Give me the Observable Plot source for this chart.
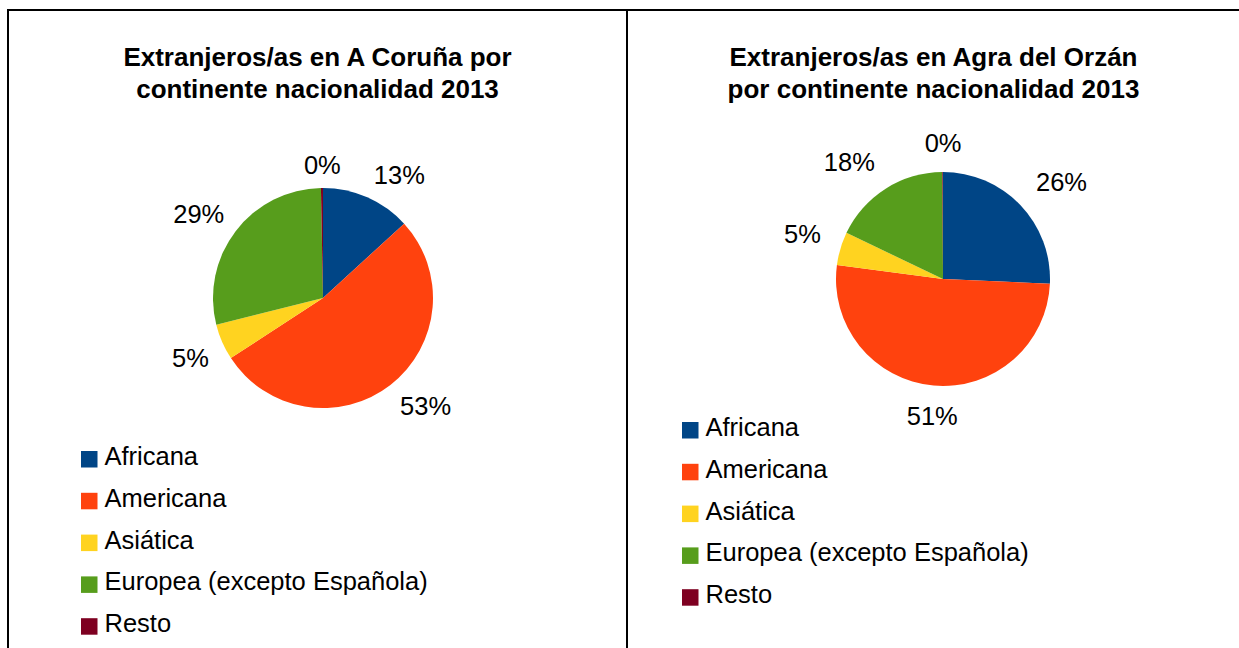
<!DOCTYPE html>
<html>
<head>
<meta charset="utf-8">
<script src="https://cdn.jsdelivr.net/npm/d3@7"></script>
<script src="https://cdn.jsdelivr.net/npm/@observablehq/plot@0.6"></script>
<style>
  html, body { margin: 0; padding: 0; background: #fff; }
  #page { position: relative; width: 1239px; height: 648px; overflow: hidden; background: #fff;
          font-family: "Liberation Sans", Arial, sans-serif; }
  .rule { position: absolute; background: #000; }
  .title { position: absolute; top: 41px; text-align: center; font-weight: bold; font-size: 26px;
           line-height: 32px; color: #000; }
  .panel { position: absolute; top: 110px; }
  .panel svg { display: block; overflow: visible; }
</style>
</head>
<body>
<div id="page"></div>
<script>
// ---- data ----
const categories = ["Africana", "Americana", "Asiática", "Europea (excepto Española)", "Resto"];
const corunaValues = [13.2, 52.6, 5.3, 28.6, 0.3];
const orzanValues = [25.7, 51.4, 5.0, 17.8, 0.1];
const colors = ["#004586", "#ff420e", "#ffd320", "#579d1c", "#7e0021"];
const titleCoruna = ["Extranjeros/as en A Coruña por", "continente nacionalidad 2013"];
const titleOrzan = ["Extranjeros/as en Agra del Orzán", "por continente nacionalidad 2013"];

// ---- layout ----
const page = document.getElementById("page");
function rule(l, t, w, h) {
  const d = document.createElement("div");
  d.className = "rule";
  Object.assign(d.style, {left: l + "px", top: t + "px", width: w + "px", height: h + "px"});
  page.appendChild(d);
}
rule(7, 9, 1232, 2);
rule(7, 9, 2, 639);
rule(626, 9, 2, 639);

const TOP = 110, H = 648 - TOP;

function panel({x0, width, title, values, cx, cy, r, off, legendX, legendY}) {
  const t = document.createElement("div");
  t.className = "title";
  t.style.left = x0 + "px";
  t.style.width = width + "px";
  t.innerHTML = title.join("<br>");
  page.appendChild(t);

  const data = categories.map((c, i) => ({cat: c, value: values[i], color: colors[i]}));
  const total = d3.sum(values);
  const arcs = d3.pie().sort(null).value(d => d.value)(data);
  const labels = arcs.map(a => {
    const m = (a.startAngle + a.endAngle) / 2;
    const s = Math.sin(m), c = Math.cos(m);
    return {
      text: Math.round(a.data.value / total * 100) + "%",
      x: cx + (r + off) * s,
      y: cy - (r + off) * c,
      ta: s > 0.1 ? "start" : s < -0.1 ? "end" : "middle",
      la: c > 0 ? "bottom" : "top"
    };
  });
  const legend = data.map((d, i) => ({...d, lx: legendX, ly: legendY + i * 41.8}));

  const labelMarks = [];
  for (const ta of ["start", "middle", "end"]) {
    for (const la of ["top", "bottom"]) {
      labelMarks.push(Plot.text(labels, {
        filter: d => d.ta === ta && d.la === la,
        x: "x", y: "y", text: "text", textAnchor: ta, lineAnchor: la,
        fontSize: 25.5, fill: "#000"
      }));
    }
  }

  const pieMark = (index, scales) => {
    const g = d3.create("svg:g")
      .attr("transform", `translate(${scales.x(cx)},${scales.y(cy)})`);
    const arc = d3.arc().innerRadius(0).outerRadius(r);
    g.selectAll("path").data(arcs).join("path")
      .attr("d", arc)
      .attr("fill", d => d.data.color);
    return g.node();
  };

  const svg = Plot.plot({
    width, height: H, margin: 0,
    style: {fontFamily: "'Liberation Sans', Arial, sans-serif", background: "transparent", overflow: "visible"},
    x: {type: "linear", domain: [x0, x0 + width], range: [0, width], axis: null},
    y: {type: "linear", domain: [TOP, 648], range: [0, H], axis: null},
    marks: [
      pieMark,
      ...labelMarks,
      Plot.rect(legend, {x1: d => d.lx, x2: d => d.lx + 16.5, y1: d => d.ly, y2: d => d.ly + 16.5, fill: d => d.color}),
      Plot.text(legend, {x: d => d.lx + 23, y: d => d.ly + 13.5, text: "cat", textAnchor: "start", lineAnchor: "bottom",
                         fontSize: 25.5, fill: "#000"})
    ]
  });
  const wrap = document.createElement("div");
  wrap.className = "panel";
  wrap.style.left = x0 + "px";
  wrap.appendChild(svg);
  page.appendChild(wrap);
}

panel({x0: 9, width: 617, title: titleCoruna, values: corunaValues, cx: 323, cy: 298, r: 110, off: 15, legendX: 81, legendY: 451});
panel({x0: 628, width: 611, title: titleOrzan, values: orzanValues, cx: 943, cy: 279, r: 107, off: 21, legendX: 682, legendY: 422});
</script>
</body>
</html>
